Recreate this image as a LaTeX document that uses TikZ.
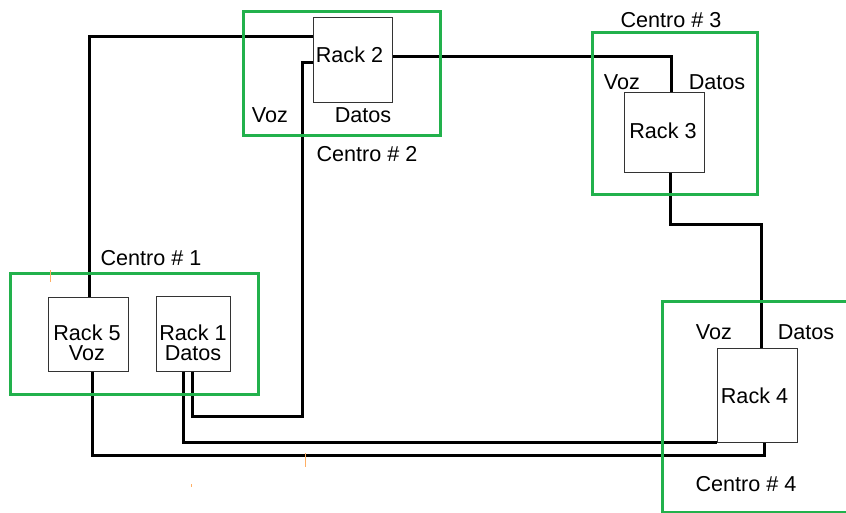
\documentclass[tikz,border=0pt]{standalone}
\usepackage{fontspec}
\setmainfont{Liberation Sans}
\usetikzlibrary{calc}
\definecolor{cgreen}{RGB}{34,177,76}
\definecolor{ticko}{RGB}{255,175,100}
\begin{document}
\begin{tikzpicture}[x=1pt,y=-1pt,
  centro/.style={draw=cgreen,line width=3pt},
  rack/.style={draw=black!80,line width=1pt,fill=white,inner sep=0pt},
  lbl/.style={font=\fontsize{21.6}{20}\selectfont,inner sep=0pt,align=center},
  wire/.style={line width=3pt},
  tickmark/.style={draw=ticko,line width=0.8pt}]
\clip (0,0) rectangle (846,513);
\fill[white] (0,0) rectangle (846,513);

% corner points of the wires
\coordinate (b1) at (302,416);
\coordinate (d1) at (764,455);
\coordinate (f1) at (761,225);

% racks
\node[rack,minimum width=80,minimum height=74] (r5) at (88,334) {};
\node[rack,minimum width=74,minimum height=75] (r1) at (193,333.5) {};
\node[rack,minimum width=79,minimum height=85] (r2) at (352.5,60.5) {};
\node[rack,minimum width=80,minimum height=80] (r3) at (664,133) {};
\node[rack,minimum width=80,minimum height=94] (r4) at (757,395) {};

% wires
\draw[wire] ([xshift=1]r5.north) |- ([yshift=23.5]r2.west);
\draw[wire] ([yshift=-2.5]r2.west) -| (b1) -| ([xshift=-1]r1.south);
\draw[wire] ([xshift=-10]r1.south) |- (r4.south west);
\draw[wire] ([xshift=4]r5.south) |- (d1) -- ([xshift=7]r4.south);
\draw[wire] ([yshift=3.5]r2.east) -| ([xshift=7]r3.north);
\draw[wire] ([xshift=6]r3.south) |- (f1) -- ([xshift=4]r4.north);

% centro boxes
\draw[centro] (10,273) rectangle (258,394);
\draw[centro] (243,12) rectangle (440,136);
\draw[centro] (592,33) rectangle (757,195);
\draw[centro] (662,301) rectangle (860,512.5);

% rack texts
\node[lbl] (t5) at (87,343) {Rack 5\\Voz};
\node[lbl] (t1) at (193,343) {Rack 1\\Datos};
\node[lbl] (t2) at (349.5,55) {Rack 2};
\node[lbl] (t3) at (663,130.5) {Rack 3};
\node[lbl] (t4) at (754.5,396) {Rack 4};

% centro labels
\node[lbl] (c1) at (151,258) {Centro \# 1};
\node[lbl] (c2) at (367,154) {Centro \# 2};
\node[lbl] (c3) at (671,20) {Centro \# 3};
\node[lbl] (c4) at (746,484) {Centro \# 4};

\node[lbl] (v2) at (270,115) {Voz};
\node[lbl] (d2) at (363,115) {Datos};
\node[lbl] (v3) at (622,82) {Voz};
\node[lbl] (d3) at (717,82) {Datos};
\node[lbl] (v4) at (714,332) {Voz};
\node[lbl] (d4) at (806,332) {Datos};

% small tick marks
\draw[tickmark] (50,270) -- (50,282);
\draw[tickmark] (305,453) -- (305,467);
\draw[tickmark] (191,484) -- (191,487);
\end{tikzpicture}
\end{document}
